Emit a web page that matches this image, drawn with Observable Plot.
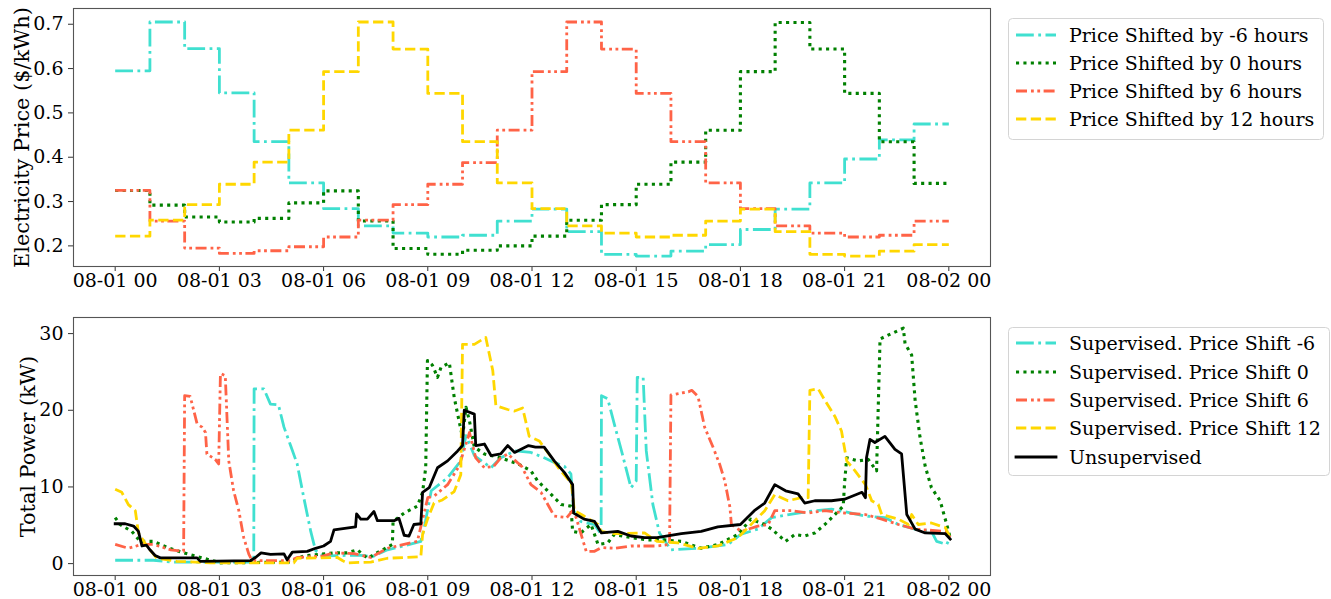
<!DOCTYPE html>
<html>
<head>
<meta charset="utf-8">
<script src="https://cdn.jsdelivr.net/npm/d3@7"></script>
<script src="https://cdn.jsdelivr.net/npm/@observablehq/plot@0.6"></script>
<style>
  html, body { margin: 0; padding: 0; background: #fff; }
  #root { position: relative; width: 1331px; height: 599px; font-family: "DejaVu Serif", serif; }
  .abs { position: absolute; }
</style>
</head>
<body>
<div id="root"></div>
<script>
// ---------- tick labels ----------
const tickHours = [0, 3, 6, 9, 12, 15, 18, 21, 24];
const tickLabels = ["08-01 00", "08-01 03", "08-01 06", "08-01 09", "08-01 12", "08-01 15", "08-01 18", "08-01 21", "08-02 00"];
const priceTicks = [0.2, 0.3, 0.4, 0.5, 0.6, 0.7];
const powerTicks = [0, 10, 20, 30];

// ---------- top panel: hourly prices ----------
const priceHours = [0,1,2,3,4,5,6,7,8,9,10,11,12,13,14,15,16,17,18,19,20,21,22,23];
const priceShiftM6 = [0.595, 0.705, 0.645, 0.545, 0.435, 0.342, 0.284, 0.245, 0.229, 0.220, 0.224, 0.256, 0.283, 0.232, 0.181, 0.177, 0.188, 0.203, 0.237, 0.283, 0.342, 0.396, 0.439, 0.475];
const priceShift0  = [0.325, 0.292, 0.265, 0.254, 0.262, 0.297, 0.324, 0.256, 0.194, 0.181, 0.190, 0.200, 0.222, 0.258, 0.293, 0.339, 0.389, 0.461, 0.593, 0.704, 0.644, 0.544, 0.435, 0.341];
const priceShift6  = [0.325, 0.256, 0.195, 0.183, 0.189, 0.198, 0.220, 0.258, 0.293, 0.339, 0.388, 0.461, 0.593, 0.705, 0.644, 0.544, 0.435, 0.342, 0.284, 0.245, 0.229, 0.220, 0.224, 0.256];
const priceShift12 = [0.222, 0.258, 0.293, 0.339, 0.389, 0.461, 0.593, 0.705, 0.644, 0.544, 0.435, 0.342, 0.284, 0.245, 0.229, 0.220, 0.224, 0.256, 0.283, 0.232, 0.181, 0.177, 0.188, 0.203];
const priceNames = ["Price Shifted by -6 hours", "Price Shifted by 0 hours", "Price Shifted by 6 hours", "Price Shifted by 12 hours"];

// ---------- bottom panel: total power ----------
const m6Hours = [0, 1.1, 1.6, 3.9, 3.99, 4.0, 4.28, 4.47, 4.7, 4.86, 5.05, 5.24, 5.43, 5.63, 5.77, 6.0, 7.0, 7.4, 7.84, 8.3, 8.8, 8.9, 9.1, 9.57, 9.95, 10.1, 10.34, 10.82, 11.1, 11.5, 11.97, 12.35, 12.64, 12.93, 13.12, 13.2, 13.4, 13.8, 13.99, 14.0, 14.18, 14.37, 14.6, 14.85, 15.0, 15.03, 15.2, 15.29, 15.48, 15.67, 16.0, 16.8, 17.65, 18.0, 18.5, 18.9, 19.66, 20.14, 20.62, 21.2, 21.6, 22.16, 22.55, 23.03, 23.5, 23.65, 23.94, 24.04];
const m6KW    = [0.44, 0.44, 0.2, 0.2, 0.7, 22.8, 22.8, 20.8, 20.7, 17.8, 15.4, 13.0, 8.6, 4.2, 1.7, 1.0, 1.1, 0.9, 1.8, 2.3, 2.9, 4.7, 9.5, 11.2, 13.4, 16.7, 14.1, 12.5, 13.8, 14.7, 14.5, 13.8, 13.2, 12.7, 11.7, 6.9, 5.5, 5.1, 3.8, 21.9, 21.5, 18.2, 14.3, 9.9, 10.8, 24.3, 24.3, 14.7, 7.7, 4.0, 1.8, 2.0, 2.5, 3.8, 4.5, 6.0, 6.6, 6.9, 7.1, 6.6, 6.2, 6.0, 5.1, 4.5, 4.2, 2.9, 2.5, 3.4];

const s0Hours = [0, 0.14, 0.48, 0.72, 1.1, 1.5, 1.97, 2.55, 3.03, 5.05, 5.43, 6.3, 6.68, 6.97, 7.26, 7.74, 7.98, 8.0, 8.32, 8.7, 8.85, 8.94, 8.99, 9.13, 9.28, 9.38, 9.62, 9.76, 9.9, 10.0, 10.1, 10.2, 10.34, 10.63, 11.1, 11.6, 11.97, 12.16, 12.45, 12.84, 13.12, 13.17, 13.4, 13.7, 13.9, 14.18, 14.37, 14.85, 15.3, 15.8, 16.3, 16.87, 17.35, 17.93, 18.3, 18.7, 18.9, 19.3, 19.57, 19.85, 20.14, 20.43, 20.72, 20.96, 21.0, 21.06, 21.4, 21.68, 21.92, 22.02, 22.35, 22.69, 22.74, 22.93, 23.03, 23.17, 23.32, 23.5, 23.75, 23.94, 24.04];
const s0KW    = [6.0, 5.1, 4.2, 2.9, 2.9, 2.1, 1.4, 0.7, 0.1, 0.2, 1.0, 1.4, 1.4, 1.8, 0.7, 1.9, 2.5, 5.5, 6.6, 7.5, 9.3, 12.5, 26.5, 25.9, 24.3, 25.6, 26.2, 21.7, 18.6, 16.5, 20.4, 18.6, 15.2, 14.3, 13.8, 13.0, 12.1, 10.8, 9.5, 7.7, 7.5, 4.2, 4.0, 5.1, 2.5, 2.7, 3.8, 3.4, 3.1, 3.1, 2.9, 2.0, 2.5, 3.8, 5.8, 5.1, 4.5, 2.9, 3.8, 3.6, 4.0, 5.1, 6.4, 7.5, 10.6, 13.8, 13.4, 13.6, 12.1, 29.3, 30.0, 30.7, 28.7, 27.2, 21.3, 16.5, 12.7, 9.9, 8.2, 5.1, 3.4];

const s6Hours = [0, 0.38, 0.77, 1.1, 1.6, 1.97, 2.0, 2.16, 2.36, 2.5, 2.6, 2.64, 2.88, 2.98, 3.03, 3.17, 3.27, 3.41, 3.56, 3.7, 3.85, 3.94, 5.05, 5.24, 6.0, 6.3, 6.88, 7.36, 7.84, 8.7, 9.0, 9.18, 9.57, 9.9, 10.2, 10.38, 10.63, 10.9, 11.1, 11.3, 11.7, 11.97, 12.26, 12.64, 13.0, 13.17, 13.27, 13.56, 13.8, 14.0, 14.37, 14.85, 15.6, 15.96, 16.0, 16.5, 16.6, 16.78, 16.97, 17.21, 17.4, 17.55, 17.7, 17.74, 18.03, 18.5, 18.8, 18.99, 19.47, 19.95, 20.43, 21.0, 21.6, 22.07, 22.55, 23.03, 23.9, 24.04];
const s6KW    = [2.5, 2.0, 2.5, 2.5, 1.8, 1.6, 21.9, 21.8, 18.2, 17.8, 17.1, 14.3, 13.6, 13.0, 24.8, 24.5, 13.4, 9.5, 6.9, 3.4, 1.2, 0.4, 0.4, 0.8, 1.0, 1.4, 1.3, 0.8, 2.0, 2.9, 8.6, 8.8, 10.3, 12.7, 17.1, 13.8, 12.5, 12.7, 13.8, 14.3, 12.7, 10.3, 9.3, 6.2, 6.0, 6.9, 6.0, 1.6, 1.6, 2.1, 2.0, 2.3, 2.3, 2.5, 22.0, 22.4, 22.6, 21.8, 17.8, 15.2, 13.0, 10.8, 7.3, 5.1, 4.2, 4.9, 5.1, 6.9, 6.9, 6.6, 6.9, 6.6, 6.4, 5.8, 5.1, 4.5, 4.2, 3.4];

const s12Hours = [0, 0.19, 0.38, 0.58, 0.67, 0.91, 1.2, 1.78, 2.74, 5.14, 5.24, 6.4, 6.54, 6.68, 7.36, 7.84, 8.8, 8.85, 9.0, 9.18, 9.42, 9.76, 9.95, 10.0, 10.34, 10.67, 10.87, 10.96, 11.3, 11.5, 11.73, 11.92, 12.21, 12.5, 12.79, 13.13, 13.22, 13.5, 13.9, 13.99, 14.37, 15.24, 15.6, 16.2, 16.78, 17.35, 17.93, 18.22, 18.7, 18.99, 19.37, 19.76, 19.95, 20.0, 20.24, 20.43, 20.72, 20.91, 21.06, 21.3, 21.6, 21.78, 21.97, 22.07, 22.55, 22.84, 22.93, 23.12, 23.5, 23.9, 24.04];
const s12KW    = [9.7, 9.3, 7.7, 6.9, 4.0, 2.3, 0.7, 0.3, 0.1, 0.1, 0.7, 0.8, 0.4, 0.1, 0.2, 0.7, 0.9, 3.8, 5.9, 7.9, 8.3, 9.4, 11.6, 28.6, 28.6, 29.5, 25.2, 20.6, 20.1, 19.9, 20.3, 16.6, 16.0, 14.2, 12.3, 10.5, 6.9, 6.2, 5.1, 4.2, 3.9, 4.0, 2.9, 2.7, 2.0, 2.3, 3.4, 4.7, 6.9, 9.0, 8.2, 8.6, 8.6, 22.6, 22.8, 21.3, 19.2, 17.3, 13.4, 12.1, 10.3, 8.2, 7.7, 6.4, 5.8, 5.1, 6.4, 5.1, 5.3, 4.7, 3.4];

const unsupHours = [0, 0.29, 0.53, 0.67, 0.77, 0.9, 1.0, 1.15, 1.3, 2.36, 2.45, 3.9, 4.04, 4.2, 4.47, 4.86, 4.95, 5.1, 5.53, 5.77, 6.0, 6.2, 6.3, 6.92, 6.95, 7.07, 7.26, 7.45, 7.55, 8.03, 8.17, 8.32, 8.46, 8.6, 8.8, 8.85, 9.04, 9.28, 9.57, 9.86, 10.0, 10.05, 10.34, 10.38, 10.63, 10.82, 11.1, 11.3, 11.5, 11.9, 12.1, 12.35, 12.64, 12.93, 13.17, 13.2, 13.5, 13.8, 14.0, 14.47, 14.85, 15.24, 15.6, 16.3, 16.87, 17.35, 18.0, 18.4, 18.7, 18.99, 19.3, 19.66, 19.85, 20.14, 20.62, 21.0, 21.5, 21.6, 21.63, 21.73, 21.87, 22.16, 22.45, 22.64, 22.79, 23.03, 23.32, 23.9, 24.04];
const unsupKW    = [5.2, 5.2, 4.9, 4.2, 2.3, 2.4, 1.8, 1.05, 0.75, 0.75, 0.3, 0.4, 0.8, 1.4, 1.2, 1.27, 0.5, 1.5, 1.6, 2.0, 2.3, 2.9, 4.4, 4.8, 6.5, 5.8, 5.8, 6.8, 5.6, 5.6, 5.9, 3.7, 3.6, 5.1, 5.2, 9.3, 9.9, 12.5, 13.4, 14.7, 15.4, 20.0, 19.5, 15.4, 15.6, 14.1, 14.3, 15.4, 14.5, 15.4, 15.2, 15.2, 13.4, 11.9, 10.3, 6.6, 5.8, 5.5, 4.0, 4.2, 3.6, 3.4, 3.4, 3.9, 4.2, 4.8, 5.1, 6.9, 7.9, 10.3, 9.5, 9.1, 7.9, 8.2, 8.2, 8.4, 9.3, 8.6, 13.8, 16.2, 15.8, 16.6, 14.9, 14.3, 6.4, 4.5, 4.0, 3.9, 3.2];
const powerNames = ["Supervised. Price Shift -6", "Supervised. Price Shift 0", "Supervised. Price Shift 6", "Supervised. Price Shift 12", "Unsupervised"];

// ---------- styles ----------
const LW = 2.8;
const styles = [
  {stroke: "#40E0D0", dash: "17.8,4.45,2.8,4.45", cap: "butt", w: LW},
  {stroke: "#008000", dash: "3.1,4.3", cap: "butt", w: 3.1},
  {stroke: "#FF6347", dash: "11,4,2.8,3.5,2.8,3.5", cap: "butt", w: LW},
  {stroke: "#FFD700", dash: "10.3,4.45", cap: "butt", w: LW},
  {stroke: "#000000", dash: null, cap: "square", w: LW}
];
const FONT = "DejaVu Serif";
const xDomain = [-1.2, 25.2];

function stepTable(vals) {
  const t = priceHours.map((h, i) => ({h, v: vals[i]}));
  t.push({h: 24, v: vals[vals.length - 1]});
  return t;
}
function seriesTable(hs, vs) { return hs.map((h, i) => ({h, v: vs[i]})); }
function lineOpts(s, curve) {
  const o = {x: "h", y: "v", stroke: s.stroke, strokeWidth: s.w, strokeLinecap: s.cap, strokeLinejoin: "round", curve};
  if (s.dash) o.strokeDasharray = s.dash;
  return o;
}
function axes(yTicks, yFmt, ylabel, labelDx) {
  return [
    Plot.axisX({ticks: tickHours, tickFormat: d => tickLabels[tickHours.indexOf(d)], tickSize: 5, tickPadding: 2, label: null, fontSize: 19, stroke: "#333"}),
    Plot.axisY({ticks: yTicks, tickFormat: yFmt, tickSize: 5, tickPadding: 5, label: null, fontSize: 19, stroke: "#333"}),
    Plot.frame({stroke: "#555", strokeWidth: 1.1}),
    Plot.text([ylabel], {frameAnchor: "left", dx: labelDx, rotate: -90, text: d => d, fontSize: 20.8, textAnchor: "middle", lineAnchor: "middle", fill: "black"})
  ];
}

const root = document.getElementById("root");

// top chart
const priceData = [priceShiftM6, priceShift0, priceShift6, priceShift12];
const topChart = Plot.plot({
  width: 1000, height: 300,
  marginLeft: 73, marginRight: 10, marginTop: 8, marginBottom: 34,
  style: {fontFamily: FONT, fontSize: "19px", color: "black", background: "white", overflow: "visible"},
  x: {domain: xDomain},
  y: {domain: [0.1535, 0.7355]},
  marks: [
    ...priceData.map((vals, i) => Plot.line(stepTable(vals), lineOpts(styles[i], "step-after"))),
    ...axes(priceTicks, d => d.toFixed(1), "Electricity Price ($/kWh)", -51)
  ]
});
topChart.classList.add("abs");
topChart.style.left = "0px"; topChart.style.top = "0px";
root.appendChild(topChart);

// bottom chart
const powerData = [[m6Hours, m6KW], [s0Hours, s0KW], [s6Hours, s6KW], [s12Hours, s12KW], [unsupHours, unsupKW]];
const bottomChart = Plot.plot({
  width: 1000, height: 299,
  marginLeft: 73, marginRight: 10, marginTop: 17, marginBottom: 24,
  style: {fontFamily: FONT, fontSize: "19px", color: "black", background: "white", overflow: "visible"},
  x: {domain: xDomain},
  y: {domain: [-1.55, 32.1]},
  marks: [
    ...powerData.map(([hs, vs], i) => Plot.line(seriesTable(hs, vs), lineOpts(styles[i], "linear"))),
    ...axes(powerTicks, d => String(d), "Total Power (kW)", -45)
  ]
});
bottomChart.classList.add("abs");
bottomChart.style.left = "0px"; bottomChart.style.top = "300px";
root.appendChild(bottomChart);

// legends
function legend(names, left, topPx, w, h, rows) {
  const svg = d3.create("svg").attr("width", w + 2).attr("height", h + 2)
    .style("position", "absolute").style("left", left + "px").style("top", topPx + "px")
    .style("font-family", FONT).style("font-size", "19px");
  svg.append("rect").attr("x", 0.5).attr("y", 0.5).attr("width", w).attr("height", h)
    .attr("rx", 4).attr("fill", "white").attr("stroke", "#d4d4d4").attr("stroke-width", 1);
  names.forEach((n, i) => {
    const s = styles[i];
    const y = rows[i];
    const ln = svg.append("line").attr("x1", 8).attr("x2", 48).attr("y1", y).attr("y2", y)
      .attr("stroke", s.stroke).attr("stroke-width", s.w).attr("stroke-linecap", s.cap);
    if (s.dash) ln.attr("stroke-dasharray", s.dash);
    svg.append("text").attr("x", 61).attr("y", y).attr("dy", "0.35em").attr("fill", "black").text(n);
  });
  root.appendChild(svg.node());
}
legend(priceNames, 1008, 18, 315, 121, [17, 45, 73, 101]);
legend(powerNames, 1008, 327, 321, 148, [16, 45, 73, 101, 130]);
</script>
</body>
</html>
